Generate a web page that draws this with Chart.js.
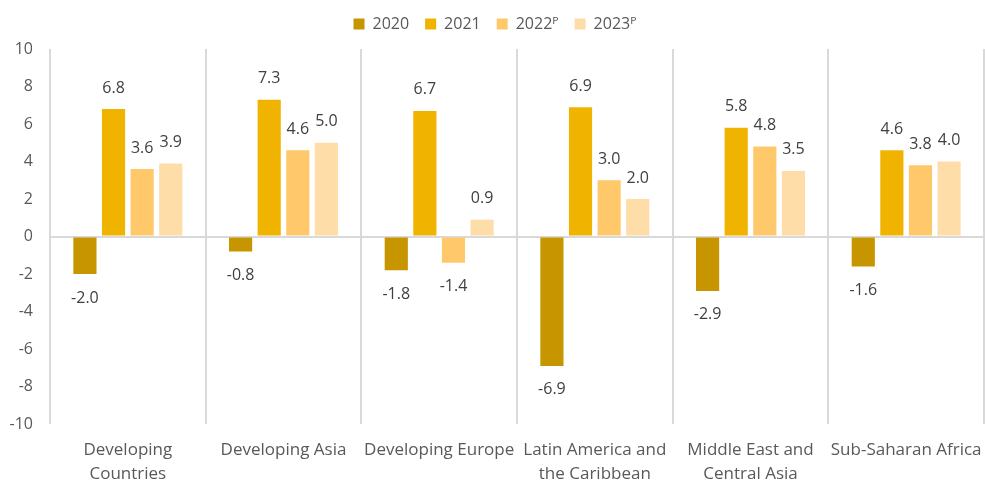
<!DOCTYPE html>
<html>
<head>
<meta charset="utf-8">
<script src="https://cdn.jsdelivr.net/npm/chart.js@4.4.1/dist/chart.umd.min.js"></script>
<style>
  html, body { margin: 0; padding: 0; background: #fff; }
  #wrap { width: 985px; height: 481px; position: relative; }
</style>
</head>
<body>
<div id="wrap"><canvas id="chart"></canvas></div>
<script>
// growth by region

const regions = [
    ['Developing', 'Countries'],
    'Developing Asia',
    'Developing Europe',
    ['Latin America and', 'the Caribbean'],
    ['Middle East and', 'Central Asia'],
    'Sub-Saharan Africa'
];

const seriesNames = ['2020', '2021', '2022\u1D3E', '2023\u1D3E'];
const values2020 = [-2.0, -0.8, -1.8, -6.9, -2.9, -1.6];
const values2021 = [6.8, 7.3, 6.7, 6.9, 5.8, 4.6];
const values2022 = [3.6, 4.6, -1.4, 3.0, 4.8, 3.8];
const values2023 = [3.9, 5.0, 0.9, 2.0, 3.5, 4.0];
const barColors = ['#C79500', '#F0B400', '#FFC96B', '#FFDDA8'];

const fontFamily = '"Open Sans", "Noto Sans", sans-serif';

// values printed above / below each bar
const valueLabels = {
    id: 'valueLabels',
    afterDatasetsDraw(chart) {
        const ctx = chart.ctx;
        ctx.save();
        ctx.font = '16px ' + fontFamily;
        ctx.fillStyle = '#404040';
        ctx.textAlign = 'center';
        ctx.textBaseline = 'middle';
        chart.data.datasets.forEach((ds, i) => {
            const meta = chart.getDatasetMeta(i);
            meta.data.forEach((bar, j) => {
                const v = ds.data[j];
                const y = v >= 0 ? bar.y - 21 : bar.y + 24;
                ctx.fillText(v.toFixed(1), bar.x, y);
            });
        });
        ctx.restore();
    }
};

// extra room under the legend
const legendGap = {
    id: 'legendGap',
    beforeInit(chart) {
        const fit = chart.legend.fit;
        chart.legend.fit = function() {
            fit.bind(chart.legend)();
            this.height += 7;
        };
    }
};

const allValues = [values2020, values2021, values2022, values2023];

new Chart(document.getElementById('chart'), {
    type: 'bar',
    data: {
        labels: regions,
        datasets: allValues.map((vals, i) => ({
            label: seriesNames[i],
            data: vals,
            backgroundColor: barColors[i],
            categoryPercentage: 0.735,
            barPercentage: 0.81
        }))
    },
    options: {
        responsive: true,
        maintainAspectRatio: false,
        animation: false,
        layout: {
            padding: { left: 6, right: 1, top: 0, bottom: 0 }
        },
        plugins: {
            legend: {
                position: 'top',
                labels: {
                    boxWidth: 11,
                    boxHeight: 11,
                    padding: 16,
                    color: '#595959',
                    font: { family: fontFamily, size: 16 }
                }
            },
            tooltip: { enabled: false }
        },
        scales: {
            x: {
                afterFit(scale) {
                    scale.height = 57;
                    scale.paddingLeft = 0;
                    scale.paddingRight = 0;
                },
                grid: {
                    offset: true,
                    color: '#D9D9D9',
                    lineWidth: 2,
                    drawTicks: false
                },
                border: { display: false },
                ticks: {
                    color: '#595959',
                    padding: 14,
                    maxRotation: 0,
                    autoSkip: false,
                    font: { family: fontFamily, size: 17, lineHeight: 1.4 }
                }
            },
            y: {
                min: -10,
                max: 10,
                afterFit(scale) {
                    scale.width = 44;
                    scale.paddingTop = 0;
                    scale.paddingBottom = 0;
                },
                grid: {
                    color: (c) => c.tick && c.tick.value === 0 ? '#D9D9D9' : 'rgba(0,0,0,0)',
                    lineWidth: 2,
                    drawTicks: false
                },
                border: { display: false },
                ticks: {
                    stepSize: 2,
                    color: '#595959',
                    padding: 17,
                    font: { family: fontFamily, size: 16 }
                }
            }
        }
    },
    plugins: [valueLabels, legendGap]
});
</script>
</body>
</html>
